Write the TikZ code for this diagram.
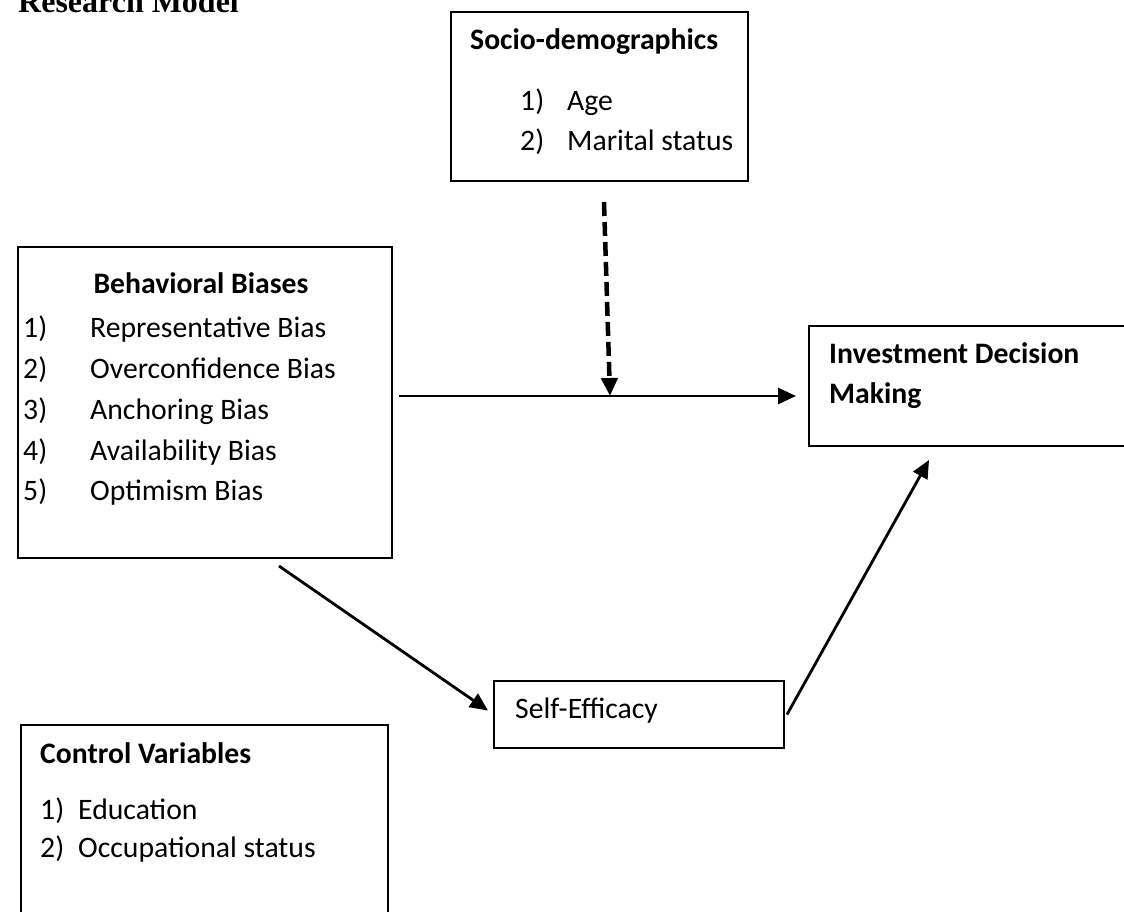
\documentclass[tikz,border=0pt]{standalone}
\usepackage{fontspec}
\setmainfont{Carlito}
\newfontfamily\headfont{Liberation Serif}
\usetikzlibrary{arrows.meta}
\tikzset{
  box/.style={draw, line width=2pt, anchor=north west, inner sep=0pt},
  txt/.style={anchor=base west, inner sep=0pt, font=\fontsize{29.7}{35}\selectfont},
  head/.style={anchor=base west, inner sep=0pt, font=\fontsize{29.7}{35}\selectfont\bfseries},
  arr/.style={line width=2.8pt, -{Triangle[length=18pt,width=16pt]}},
  modarr/.style={arr, line width=4.5pt, dash pattern=on 14pt off 6pt}
}
\begin{document}
\begin{tikzpicture}[x=1pt, y=-1pt]
  \useasboundingbox (0,0) rectangle (1124,911);
  % heading (cut at the top)
  \node[anchor=base west, inner sep=0pt, font=\headfont\fontsize{32}{38}\selectfont\bfseries] (title) at (18,12) {Research Model};

  % 1. boxes
  \node[box, minimum width=297pt, minimum height=169pt] (socio) at (450,11) {};
  \node[box, minimum width=374pt, minimum height=311pt] (bb) at (17,246) {};
  \node[box, minimum width=330pt, minimum height=120pt] (idm) at (808,325) {};
  \node[box, minimum width=290pt, minimum height=67pt] (se) at (493,680) {};
  \node[box, minimum width=367pt, minimum height=220pt] (cv) at (20,724) {};

  % 2. socio-demographics
  \node[head] (sociohead) at (470,49) {Socio-demographics};
  \node[txt] (socio1n) at (520,110) {1)};
  \node[txt] (socio1) at (567,110) {Age};
  \node[txt] (socio2n) at (520,150) {2)};
  \node[txt] (socio2) at (567,150) {Marital status};

  % 3. behavioral biases
  \node[head, anchor=base] (bbhead) at (201,293) {Behavioral Biases};
  \node[txt] (bb1n) at (23,337) {1)};
  \node[txt] (bb1) at (90,337) {Representative Bias};
  \node[txt] (bb2n) at (23,378) {2)};
  \node[txt] (bb2) at (90,378) {Overconfidence Bias};
  \node[txt] (bb3n) at (23,419) {3)};
  \node[txt] (bb3) at (90,419) {Anchoring Bias};
  \node[txt] (bb4n) at (23,460) {4)};
  \node[txt] (bb4) at (90,460) {Availability Bias};
  \node[txt] (bb5n) at (23,500) {5)};
  \node[txt] (bb5) at (90,500) {Optimism Bias};

  % 4. investment decision making
  \node[head] (idmhead1) at (829,363) {Investment Decision};
  \node[head] (idmhead2) at (829,403) {Making};

  % 5. self-efficacy
  \node[txt] (selabel) at (515,718) {Self-Efficacy};

  % 6. control variables
  \node[head] (cvhead) at (40,763) {Control Variables};
  \node[txt] (cv1n) at (40,819) {1)};
  \node[txt] (cv1) at (78,819) {Education};
  \node[txt] (cv2n) at (40,857) {2)};
  \node[txt] (cv2) at (78,857) {Occupational status};

  % 7. arrows
  \coordinate (mid) at (610,396);
  \draw[arr] ([xshift=6pt]bb.east |- mid) -- ([xshift=-12pt]idm.west |- mid);
  \draw[modarr] ([xshift=4.5pt,yshift=-20pt]socio.south) -- (mid);
  \draw[arr] ([xshift=74pt,yshift=-7pt]bb.south) -- ([xshift=-5pt,yshift=4pt]se.west);
  \draw[arr] ([xshift=2pt]se.east) -- ([xshift=-45pt,yshift=-13pt]idm.south);
\end{tikzpicture}
\end{document}
